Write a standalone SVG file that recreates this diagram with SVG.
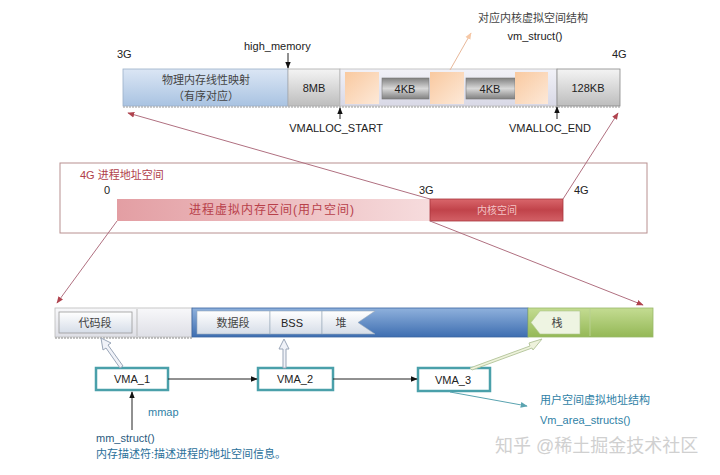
<svg xmlns="http://www.w3.org/2000/svg" width="720" height="475" viewBox="0 0 720 475">
<defs>
<linearGradient id="gBlue" x1="0" y1="0" x2="0" y2="1"><stop offset="0" stop-color="#dbe6f4"/><stop offset="1" stop-color="#a9c3e2"/></linearGradient>
<linearGradient id="gGray" x1="0" y1="0" x2="0" y2="1"><stop offset="0" stop-color="#f4f4f4"/><stop offset="1" stop-color="#bdbdbd"/></linearGradient>
<linearGradient id="gDark" x1="0" y1="0" x2="0" y2="1"><stop offset="0" stop-color="#808080"/><stop offset="0.5" stop-color="#d8d8d8"/><stop offset="1" stop-color="#808080"/></linearGradient>
<linearGradient id="gPeach" x1="0" y1="0" x2="1" y2="1"><stop offset="0" stop-color="#f9c9a0"/><stop offset="1" stop-color="#fde9d8"/></linearGradient>
<linearGradient id="gLav" x1="0" y1="0" x2="0" y2="1"><stop offset="0" stop-color="#f2f2f8"/><stop offset="1" stop-color="#d8d8e6"/></linearGradient>
<linearGradient id="gPink" x1="0" y1="0" x2="1" y2="0"><stop offset="0" stop-color="#e39ea3"/><stop offset="1" stop-color="#f6dcdd"/></linearGradient>
<linearGradient id="gRed" x1="0" y1="0" x2="0" y2="1"><stop offset="0" stop-color="#d9666b"/><stop offset="0.5" stop-color="#c1434a"/><stop offset="1" stop-color="#d26066"/></linearGradient>
<linearGradient id="gBlue2" x1="0" y1="0" x2="0" y2="1"><stop offset="0" stop-color="#8fb1dc"/><stop offset="1" stop-color="#3e6eb1"/></linearGradient>
<linearGradient id="gGreen" x1="0" y1="0" x2="0" y2="1"><stop offset="0" stop-color="#c4dc92"/><stop offset="1" stop-color="#94b856"/></linearGradient>
<linearGradient id="gBtn" x1="0" y1="0" x2="0" y2="1"><stop offset="0" stop-color="#ffffff"/><stop offset="1" stop-color="#d6dde8"/></linearGradient>
<linearGradient id="gWhite" x1="0" y1="0" x2="0" y2="1"><stop offset="0" stop-color="#f8f8fa"/><stop offset="1" stop-color="#dedfe6"/></linearGradient>
<marker id="aBlk" viewBox="0 0 10 10" refX="9" refY="5" markerWidth="7" markerHeight="7" orient="auto-start-reverse"><path d="M0,1 L10,5 L0,9 z" fill="#111"/></marker>
<marker id="aRed" viewBox="0 0 10 10" refX="9" refY="5" markerWidth="7" markerHeight="7" orient="auto"><path d="M0,1 L10,5 L0,9 z" fill="#b0434e"/></marker>
<marker id="aPeach" viewBox="0 0 10 10" refX="9" refY="5" markerWidth="7" markerHeight="7" orient="auto"><path d="M0,1 L10,5 L0,9 z" fill="#f6c8a6"/></marker>
<marker id="aTeal" viewBox="0 0 10 10" refX="9" refY="5" markerWidth="7" markerHeight="7" orient="auto"><path d="M0,1 L10,5 L0,9 z" fill="#5aa3b0"/></marker>
</defs>
<style>
text{font-family:"Liberation Sans","Noto Sans CJK SC",sans-serif;}
.t{font-size:11px;fill:#222;}
.c{text-anchor:middle;}
.cn{font-size:11px;fill:#444;}
.vma{fill:#fff;stroke:#4aa0aa;stroke-width:2.5;}
.blu{font-size:11px;fill:#2f7fa6;}
.conn{stroke:#222;stroke-width:1;fill:none;}
.red{stroke:#b07080;stroke-width:1;fill:none;}
.hollow{fill:#f0f2f8;stroke:#9aa6b8;stroke-width:1;}
</style>

<!-- TOP: kernel space detail -->
<g id="kernel-bar">
<rect x="123" y="69" width="165" height="37" fill="url(#gBlue)" stroke="#9bb0c8" stroke-width="0.8"/>
<text class="cn c" x="206" y="84">物理内存线性映射</text>
<text class="cn c" x="206" y="100">（有序对应）</text>
<rect x="288" y="69" width="52" height="37" fill="url(#gGray)" stroke="#aaa" stroke-width="0.8"/>
<text class="t c" x="314" y="92">8MB</text>
<rect x="340" y="69" width="217" height="37" fill="url(#gLav)" stroke="#bbb" stroke-width="0.8"/>
<rect x="345" y="72" width="34" height="32" fill="url(#gPeach)"/>
<rect x="382" y="78" width="47" height="21" fill="url(#gDark)" stroke="#777" stroke-width="0.6"/>
<text class="t c" x="405" y="93">4KB</text>
<rect x="430" y="72" width="34" height="32" fill="url(#gPeach)"/>
<rect x="466" y="78" width="49" height="21" fill="url(#gDark)" stroke="#777" stroke-width="0.6"/>
<text class="t c" x="490" y="93">4KB</text>
<rect x="515" y="72" width="33" height="32" fill="url(#gPeach)"/>
<rect x="557" y="69" width="63" height="37" fill="url(#gGray)" stroke="#888" stroke-width="0.8"/>
<text class="t c" x="588" y="92">128KB</text>
<line x1="123" y1="107" x2="620" y2="107" stroke="#999" stroke-width="1" stroke-dasharray="2,1"/>
</g>
<g id="top-labels">
<text class="t" x="117" y="58">3G</text>
<text class="t" x="612" y="58">4G</text>
<text class="t" x="244" y="50">high_memory</text>
<text class="t c" x="336" y="132">VMALLOC_START</text>
<text class="t c" x="550" y="132">VMALLOC_END</text>
<text class="cn c" x="533" y="22" fill="#666">对应内核虚拟空间结构</text>
<text class="t c" x="535" y="40" fill="#444">vm_struct()</text>
</g>

<!-- MIDDLE: 4G process address space -->
<g id="process-space">
<rect x="60" y="163" width="587" height="70" fill="#fff" stroke="#b89090" stroke-width="1"/>
<text x="80" y="179" style="font-size:11px;fill:#b0404a">4G 进程地址空间</text>
<text class="t" x="104" y="194">0</text>
<text class="t" x="419" y="194">3G</text>
<text class="t" x="574" y="194">4G</text>
<rect x="117" y="199" width="313" height="22" fill="url(#gPink)"/>
<text class="c" x="272" y="214" style="font-size:12px;fill:#b8404a;letter-spacing:1px">进程虚拟内存区间(用户空间)</text>
<rect x="430" y="199" width="133" height="22" fill="url(#gRed)" stroke="#a8353c" stroke-width="0.8"/>
<text class="c" x="497" y="214" style="font-size:10px;fill:#f4c4c6">内核空间</text>
</g>

<!-- BOTTOM: user space segments -->
<g id="user-bar">
<rect x="55" y="308" width="137" height="29" fill="url(#gWhite)" stroke="#bbb" stroke-width="0.8"/>
<line x1="137" y1="309" x2="137" y2="336" stroke="#bbb"/>
<rect x="59" y="312" width="73" height="21" fill="url(#gBtn)" stroke="#999" stroke-width="0.8"/>
<text class="cn c" x="95" y="327">代码段</text>
<rect x="192" y="308" width="336" height="29" fill="url(#gBlue2)" stroke="#3a64a0" stroke-width="0.8"/>
<rect x="197" y="311" width="73" height="23" fill="url(#gBtn)" stroke="#9ab" stroke-width="0.6"/>
<text class="cn c" x="233" y="327">数据段</text>
<rect x="270" y="311" width="52" height="23" fill="url(#gBtn)" stroke="#9ab" stroke-width="0.6"/>
<text class="t c" x="292" y="327">BSS</text>
<path d="M322,311 H375 L358,322.5 L375,334 H322 z" fill="url(#gBtn)" stroke="#9ab" stroke-width="0.6"/>
<text class="cn c" x="341" y="327">堆</text>
<rect x="528" y="308" width="125" height="29" fill="url(#gGreen)" stroke="#9ab86a" stroke-width="0.8"/>
<path d="M540,311 H580 V334 H540 L531,322.5 z" fill="#eef4e2" stroke="#b0c890" stroke-width="0.6"/>
<text class="cn c" x="557" y="327">栈</text>
<line x1="590" y1="309" x2="590" y2="336" stroke="#b8d090"/>
<line x1="55" y1="338" x2="192" y2="338" stroke="#888" stroke-dasharray="2,1"/>
</g>

<!-- VMA nodes -->
<g id="vma1"><rect class="vma" x="96" y="368" width="72" height="22"/><text class="t c" x="132" y="383">VMA_1</text></g>
<g id="vma2"><rect class="vma" x="258" y="368" width="75" height="22"/><text class="t c" x="295" y="383">VMA_2</text></g>
<g id="vma3"><rect class="vma" x="418" y="368" width="72" height="23"/><text class="t c" x="453" y="384">VMA_3</text></g>

<g id="bottom-labels">
<text class="blu" x="148" y="416">mmap</text>
<text x="96" y="442" style="font-size:11px;fill:#2a5a80">mm_struct()</text>
<text x="96" y="458" style="font-size:11px;fill:#2a6f9a">内存描述符:描述进程的地址空间信息。</text>
<text class="blu" x="540" y="404">用户空间虚拟地址结构</text>
<text class="blu" x="540" y="424">Vm_area_structs()</text>
<text x="495" y="452" style="font-size:18px;fill:#d0d0d0">知乎 @稀土掘金技术社区</text>
</g>

<!-- connectors -->
<g id="connectors">
<line class="conn" x1="288" y1="53" x2="288" y2="68" marker-end="url(#aBlk)"/>
<line class="conn" x1="340" y1="119" x2="340" y2="108" marker-end="url(#aBlk)"/>
<line class="conn" x1="557" y1="119" x2="557" y2="107" marker-end="url(#aBlk)"/>
<line x1="450" y1="70" x2="471" y2="33" stroke="#e8b89a" stroke-width="1" marker-end="url(#aPeach)"/>
<line class="red" x1="430" y1="199" x2="128" y2="113" marker-end="url(#aRed)"/>
<line class="red" x1="563" y1="199" x2="618" y2="113" marker-end="url(#aRed)"/>
<line class="red" x1="117" y1="221" x2="57" y2="303" marker-end="url(#aRed)"/>
<line class="red" x1="430" y1="221" x2="643" y2="305" marker-end="url(#aRed)"/>
<line class="conn" x1="168" y1="379" x2="257" y2="379" marker-end="url(#aBlk)"/>
<line class="conn" x1="333" y1="379" x2="417" y2="379" marker-end="url(#aBlk)"/>
<line class="conn" x1="132" y1="430" x2="132" y2="392" marker-end="url(#aBlk)"/>
<line x1="450" y1="392" x2="527" y2="406" stroke="#5aa3b0" stroke-width="1" marker-end="url(#aTeal)"/>
<path class="hollow" d="M120,368 L106,348 L103,350 L101,338 L111,343 L108,345 L123,366 z"/>
<path class="hollow" d="M283,368 L283,349 L279,349 L284,339 L289,349 L286,349 L286,368 z"/>
<path d="M470,368 L530,346 L529,343 L542,339 L533,350 L532,348 L472,370 z" fill="#eef2dc" stroke="#b8c8a0" stroke-width="1"/>
</g>
</svg>
